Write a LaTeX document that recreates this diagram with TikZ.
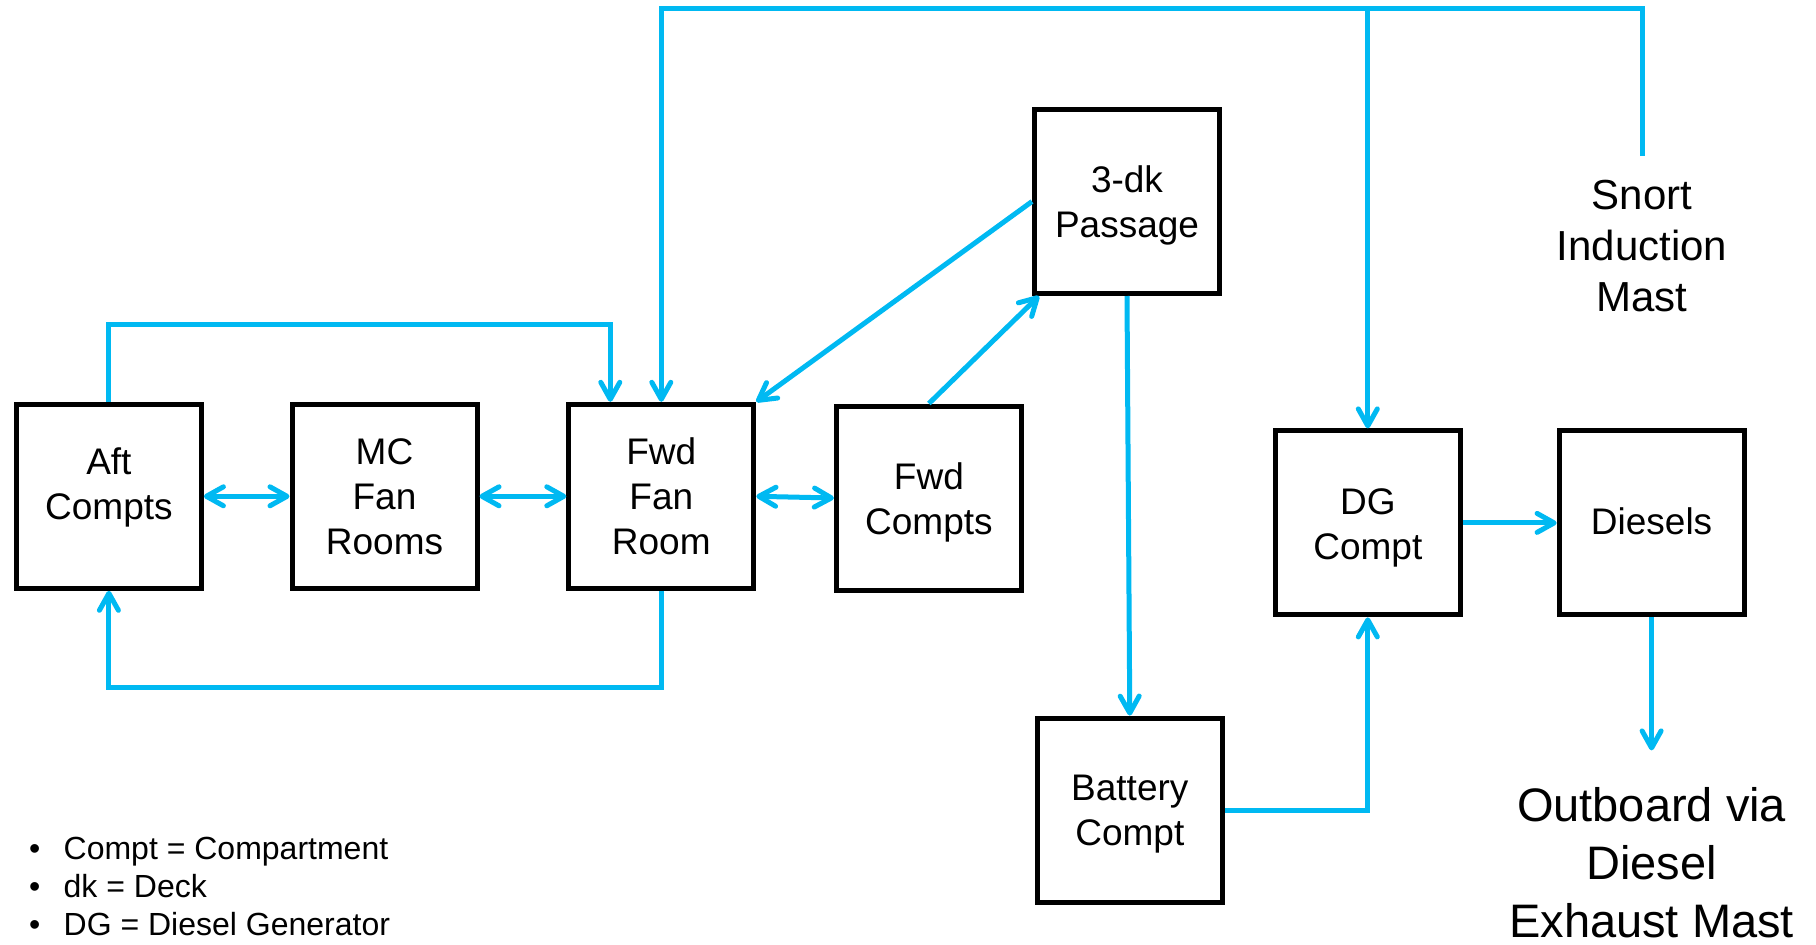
\documentclass[tikz,border=0pt]{standalone}
\usepackage{fontspec}
\setmainfont{Liberation Sans}
\usetikzlibrary{arrows.meta,calc}
\definecolor{flowblue}{HTML}{00B9F2}
\begin{document}
\begin{tikzpicture}[x=1pt,y=-1pt,
  box/.style={draw=black,line width=5pt,minimum width=185pt,minimum height=184pt,inner sep=0pt,align=center,font=\fontsize{37}{45}\selectfont},
  boxtext/.style={inner sep=0pt,align=center,font=\fontsize{37}{45}\selectfont},
  lbox/.style 2 args={box,label={[boxtext,yshift=#1]center:#2}},
  bigtext/.style={inner sep=0pt,align=center,font=\fontsize{42}{51}\selectfont},
  hugetext/.style={inner sep=0pt,align=center,font=\fontsize{47}{58}\selectfont},
  legendtext/.style={inner sep=0pt,align=left,font=\fontsize{32}{38}\selectfont},
  flow/.style={draw=flowblue,line width=5pt},
  tipb/.tip={Straight Barb[length=17pt,width=19pt,line width=5pt,round]},
  arr/.style={flow,-tipb},
  darr/.style={flow,tipb-tipb}
]
\useasboundingbox (0,0) rectangle (1816,945);

% boxes
\node[lbox={9pt}{Aft\\Compts}] (aft) at (108.9,496.3) {};
\node[box] (mc) at (384.5,496.3) {MC\\Fan\\Rooms};
\node[box] (fwdfan) at (661.3,496.3) {Fwd\\Fan\\Room};
\node[lbox={-4pt}{Fwd\\Compts}] (fwdcompts) at (928.9,498) {};
\node[lbox={-4pt}{3-dk\\Passage}] (passage) at (1127,201.5) {};
\node[lbox={-5pt}{DG\\Compt}] (dg) at (1367.8,522.9) {};
\node[lbox={2pt}{Diesels}] (diesels) at (1651.6,522.9) {};
\node[lbox={-4pt}{Battery\\Compt}] (battery) at (1129.8,810.1) {};

% free texts
\node[bigtext] (snort) at (1642,246) {Snort\\Induction\\Mast};
\node[hugetext] (outboard) at (1651.6,863) {Outboard via\\Diesel\\Exhaust Mast};
\node[legendtext,anchor=west] (legend) at (29,889.5) {\begin{tabular}{@{}p{34.5pt}@{}l@{}}
•&Compt = Compartment\\
•&dk = Deck\\
•&DG = Diesel Generator
\end{tabular}};

% helper coordinates
\coordinate (mast) at (1642,156);
\coordinate (topline) at (0,8);
\coordinate (ffin) at ([xshift=-51pt]fwdfan.north);
\coordinate (pasin) at ([xshift=7pt]passage.south west);
\coordinate (exhaust) at ([yshift=-133pt]diesels.south);

% connectors
\draw[arr] (mast) -- (mast |- topline) -| (fwdfan.north);
\draw[arr] (dg.north |- topline) -- (dg.north);
\draw[arr] (aft.north) -- ++(0,-77) -| (ffin);
\draw[arr] (fwdfan.south) -- ++(0,97) -| (aft.south);
\draw[darr] (aft.east) -- (mc.west);
\draw[darr] (mc.east) -- (fwdfan.west);
\draw[darr] (fwdfan.east) -- (fwdcompts.west);
\draw[arr] (passage.west) -- (fwdfan.north east);
\draw[arr] (fwdcompts.north) -- (pasin);
\draw[arr] (passage.south) -- (battery.north);
\draw[arr] (battery.east) -| (dg.south);
\draw[arr] (dg.east) -- (diesels.west);
\draw[arr] (diesels.south) -- (exhaust);
\end{tikzpicture}
\end{document}
